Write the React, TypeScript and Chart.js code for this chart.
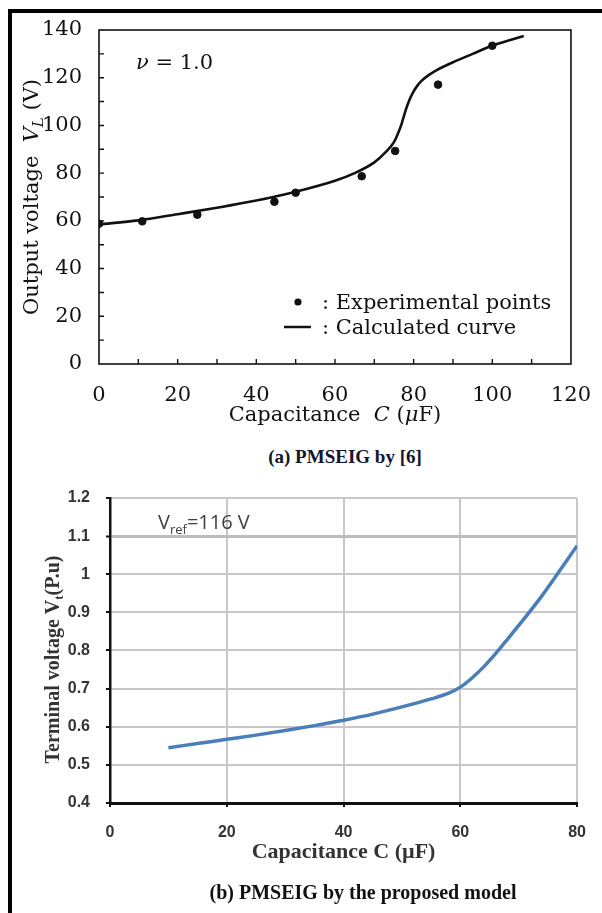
import React, { useEffect, useRef } from "react";
import { Chart, registerables } from "chart.js";

Chart.register(...registerables);

// ---------- (a) PMSEIG by [6] ----------
const expC = [0, 11, 25, 44.6, 50, 66.8, 75.3, 86.2, 100];
const expV = [58.8, 59.8, 62.6, 68, 71.8, 78.7, 89.3, 117.1, 133.4];
const calcC = [0, 10, 20, 30, 40, 50, 60, 65, 70, 73, 75, 76, 77, 78, 79, 80, 81, 82, 84, 86, 90, 95, 100, 105, 108];
const calcV = [58.5, 60.2, 62.8, 65.5, 68.5, 72.2, 76.8, 80, 84.5, 89, 93, 96.5, 101, 106.5, 111, 114.3, 116.8, 118.7, 121.3, 123.3, 126.5, 130, 133.5, 136, 137.5];
const topXLabels = ["0", "20", "40", "60", "80", "100", "120"];
const topYLabels = ["0", "20", "40", "60", "80", "100", "120", "140"];

// ---------- (b) PMSEIG by the proposed model ----------
const modelC = [10, 15, 20, 25, 30, 35, 40, 45, 50, 55, 58, 60, 62, 64, 66, 68, 70, 72, 74, 76, 78, 80];
const modelV = [0.545, 0.556, 0.567, 0.578, 0.59, 0.603, 0.617, 0.633, 0.652, 0.673, 0.688, 0.704, 0.728, 0.757, 0.791, 0.828, 0.866, 0.904, 0.944, 0.987, 1.031, 1.075];
const botXLabels = ["0", "20", "40", "60", "80"];
const botYLabels = ["0.4", "0.5", "0.6", "0.7", "0.8", "0.9", "1", "1.1", "1.2"];

const SERIF_CM = '"DejaVu Serif", serif';
const SERIF_T = '"Liberation Serif", "Times New Roman", serif';
const SANS = '"Liberation Sans", Arial, sans-serif';

type Seg = { t: string; font: string; dy?: number };

function drawRich(ctx: CanvasRenderingContext2D, segs: Seg[], x: number, y: number, rotate: boolean, align: "left" | "center", color: string) {
  ctx.save();
  ctx.translate(x, y);
  if (rotate) ctx.rotate(-Math.PI / 2);
  let total = 0;
  const widths: number[] = [];
  for (const s of segs) {
    ctx.font = s.font;
    const w = ctx.measureText(s.t).width;
    widths.push(w);
    total += w;
  }
  let cx = align === "center" ? -total / 2 : 0;
  ctx.textBaseline = "alphabetic";
  ctx.textAlign = "left";
  ctx.fillStyle = color;
  segs.forEach((s, i) => {
    ctx.font = s.font;
    ctx.fillText(s.t, cx, s.dy || 0);
    cx += widths[i];
  });
  ctx.restore();
}

const topDecor = {
  id: "topDecor",
  afterDraw(chart: any) {
    const { ctx, chartArea: a, scales } = chart;
    ctx.save();
    ctx.strokeStyle = "#111";
    ctx.lineWidth = 1.6;
    ctx.strokeRect(a.left, a.top, a.right - a.left, a.bottom - a.top);
    ctx.lineWidth = 1.4;
    ctx.beginPath();
    scales.x.ticks.forEach((t: any) => {
      if (t.value <= 0 || t.value >= 120) return;
      const px = scales.x.getPixelForValue(t.value);
      ctx.moveTo(px, a.bottom);
      ctx.lineTo(px, a.bottom - 5);
    });
    scales.y.ticks.forEach((t: any) => {
      if (t.value <= 0 || t.value >= 140) return;
      const py = scales.y.getPixelForValue(t.value);
      ctx.moveTo(a.left, py);
      ctx.lineTo(a.left + 5, py);
    });
    ctx.stroke();

    const f = `21px ${SERIF_CM}`;
    const fi = `italic 21px ${SERIF_CM}`;
    const fs = `italic 15px ${SERIF_CM}`;
    // y title
    drawRich(ctx, [
      { t: "Output voltage  ", font: f },
      { t: "V", font: fi },
      { t: "L", font: fs, dy: 5 },
      { t: " (V)", font: f },
    ], 38, (a.top + a.bottom) / 2, true, "center", "#111");
    // x title
    drawRich(ctx, [
      { t: "Capacitance  ", font: f },
      { t: "C", font: fi },
      { t: " (", font: f },
      { t: "μ", font: fi },
      { t: "F)", font: f },
    ], (a.left + a.right) / 2, 421, false, "center", "#111");
    // nu annotation
    drawRich(ctx, [
      { t: "ν", font: fi },
      { t: " = 1.0", font: f },
    ], a.left + 37, a.top + 39, false, "left", "#111");

    // legend
    const ds = chart.data.datasets;
    const lx = a.right - 273;
    const y1 = a.bottom - 62;
    const y2 = a.bottom - 37;
    ctx.fillStyle = "#111";
    ctx.beginPath();
    ctx.arc(lx, y1, 3.6, 0, Math.PI * 2);
    ctx.fill();
    ctx.lineWidth = 2.5;
    ctx.strokeStyle = "#111";
    ctx.beginPath();
    ctx.moveTo(lx - 14, y2);
    ctx.lineTo(lx + 13, y2);
    ctx.stroke();
    drawRich(ctx, [{ t: ": " + ds[0].label, font: f }], lx + 24, y1 + 7, false, "left", "#111");
    drawRich(ctx, [{ t: ": " + ds[1].label, font: f }], lx + 24, y2 + 7, false, "left", "#111");
    ctx.restore();
  },
};

const botDecor = {
  id: "botDecor",
  afterDraw(chart: any) {
    const { ctx, chartArea: a } = chart;
    ctx.save();
    drawRich(ctx, [
      { t: "Terminal voltage V", font: `bold 20px ${SERIF_T}` },
      { t: "t", font: `bold 13px ${SERIF_T}`, dy: 4 },
      { t: "(P.u)", font: `bold 20px ${SERIF_T}` },
    ], 59, (a.top + a.bottom) / 2 + 9, true, "center", "#333");
    drawRich(ctx, [
      { t: "V", font: `20px "Open Sans", sans-serif` },
      { t: "ref", font: `13px "Open Sans", sans-serif`, dy: 5 },
      { t: "=116 V", font: `20px "Open Sans", sans-serif` },
    ], a.left + 48, a.top + 31, false, "left", "#404040");
    ctx.restore();
  },
};

export default function App() {
  const topRef = useRef<HTMLCanvasElement>(null);
  const botRef = useRef<HTMLCanvasElement>(null);

  useEffect(() => {
    const topChart = new Chart(topRef.current!, {
      type: "scatter",
      data: {
        datasets: [
          {
            label: "Experimental points",
            data: expC.map((c, i) => ({ x: c, y: expV[i] })),
            backgroundColor: "#111",
            borderColor: "#111",
            pointRadius: 3.8,
            showLine: false,
          },
          {
            label: "Calculated curve",
            data: calcC.map((c, i) => ({ x: c, y: calcV[i] })),
            borderColor: "#111",
            borderWidth: 2.6,
            pointRadius: 0,
            showLine: true,
            cubicInterpolationMode: "monotone",
          } as any,
        ],
      },
      options: {
        animation: false,
        responsive: false,
        devicePixelRatio: 1,
        layout: { padding: { top: 30, right: 22, left: 0, bottom: 0 } },
        plugins: { legend: { display: false }, tooltip: { enabled: false } },
        scales: {
          x: {
            type: "linear",
            min: 0,
            max: 120,
            grid: { display: false },
            border: { display: false },
            afterFit: (s: any) => { s.height = 76; },
            ticks: {
              stepSize: 10,
              padding: 11,
              autoSkip: false,
              maxRotation: 0,
              color: "#111",
              font: { family: SERIF_CM, size: 21 },
              callback: (v: any) => (topXLabels.includes(String(v)) ? String(v) : ""),
            },
          },
          y: {
            type: "linear",
            min: 0,
            max: 140,
            grid: { display: false },
            border: { display: false },
            afterFit: (s: any) => { s.width = 99; },
            ticks: {
              stepSize: 10,
              padding: 9,
              autoSkip: false,
              color: "#111",
              font: { family: SERIF_CM, size: 21 },
              callback: (v: any) => (topYLabels.includes(String(v)) ? String(v) : ""),
            },
          },
        },
      },
      plugins: [topDecor],
    });

    const botChart = new Chart(botRef.current!, {
      type: "scatter",
      data: {
        datasets: [
          {
            label: "Terminal voltage",
            data: modelC.map((c, i) => ({ x: c, y: modelV[i] })),
            borderColor: "#4a7ebb",
            borderWidth: 3.5,
            pointRadius: 0,
            showLine: true,
            cubicInterpolationMode: "monotone",
          } as any,
        ],
      },
      options: {
        animation: false,
        responsive: false,
        devicePixelRatio: 1,
        layout: { padding: { top: 28, right: 11, left: 0, bottom: 0 } },
        plugins: { legend: { display: false }, tooltip: { enabled: false } },
        scales: {
          x: {
            type: "linear",
            min: 0,
            max: 80,
            grid: { color: "#c8c8c8", lineWidth: 2, tickColor: "#111", tickLength: 4, tickWidth: 2 },
            border: { color: "#111", width: 3 },
            afterFit: (s: any) => { s.height = 110; },
            title: {
              display: true,
              text: "Capacitance C (µF)",
              color: "#333",
              font: { family: SERIF_T, size: 22, weight: "bold" },
              padding: { top: 0, bottom: 47 },
            },
            ticks: {
              stepSize: 20,
              padding: 16,
              autoSkip: false,
              maxRotation: 0,
              color: "#333",
              font: { family: SANS, size: 16, weight: "bold" },
              callback: (v: any) => (botXLabels.includes(String(v)) ? String(v) : ""),
            },
          },
          y: {
            type: "linear",
            min: 0.4,
            max: 1.2,
            grid: {
              color: (c: any) => (Math.abs(c.tick?.value - 1.1) < 1e-6 ? "#bcbcbc" : "#c8c8c8"),
              lineWidth: (c: any) => (Math.abs(c.tick?.value - 1.1) < 1e-6 ? 3 : 2),
              tickColor: "#111",
              tickLength: 4,
              tickWidth: 2,
            },
            border: { color: "#111", width: 2.5 },
            afterFit: (s: any) => { s.width = 110; },
            ticks: {
              stepSize: 0.1,
              padding: 16,
              autoSkip: false,
              color: "#333",
              font: { family: SANS, size: 16, weight: "bold" },
              callback: (v: any) => {
                const s = String(Math.round(Number(v) * 10) / 10);
                return botYLabels.includes(s) ? s : "";
              },
            },
          },
        },
      },
      plugins: [botDecor],
    });

    return () => {
      topChart.destroy();
      botChart.destroy();
    };
  }, []);

  return (
    <div style={{ position: "absolute", left: 0, top: 0, width: 602, height: 913, background: "#fff", overflow: "hidden" }}>
      <canvas ref={topRef} width={602} height={440} style={{ position: "absolute", left: 0, top: 0, width: 602, height: 440 }} />
      <canvas ref={botRef} width={602} height={443} style={{ position: "absolute", left: 0, top: 470, width: 602, height: 443 }} />
      <div style={{ position: "absolute", left: 145, top: 447, width: 400, textAlign: "center", font: `bold 19px ${SERIF_T}`, lineHeight: "20px", color: "#15152e" }}>
        (a) PMSEIG by [6]
      </div>
      <div style={{ position: "absolute", left: 163, top: 882, width: 400, textAlign: "center", font: `bold 20px ${SERIF_T}`, lineHeight: "20px", color: "#111" }}>
        (b) PMSEIG by the proposed model
      </div>
      <div style={{ position: "absolute", left: 8, top: 9, width: 4, height: 904, background: "#000" }} />
      <div style={{ position: "absolute", left: 8, top: 9, width: 594, height: 4, background: "#000" }} />
    </div>
  );
}
